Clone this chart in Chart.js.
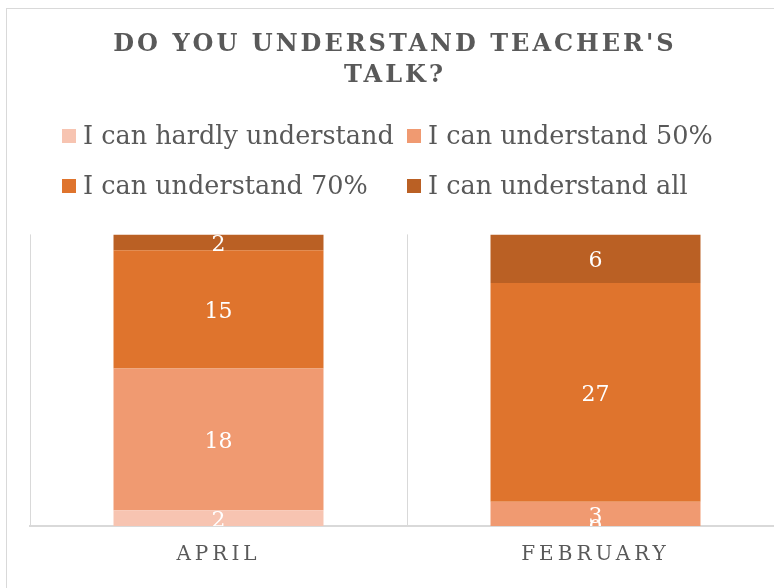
<!DOCTYPE html>
<html>
<head>
<meta charset="utf-8">
<script src="https://cdn.jsdelivr.net/npm/chart.js@4"></script>
<style>
  html, body { margin: 0; padding: 0; background: #fff; overflow: hidden; width: 774px; height: 588px; }
  #frame { position: absolute; left: 6px; top: 8px; width: 768px; height: 580px; border-left: 1px solid #d9d9d9; border-top: 1px solid #d9d9d9; box-sizing: border-box; }
  #wrap { position: absolute; left: 0; top: 0; width: 790px; height: 588px; }
</style>
</head>
<body>
<div id="frame"></div>
<div id="wrap"><canvas id="talkChart"></canvas></div>
<script>
const months = ['APRIL', 'FEBRUARY'];
const hardly = [2, 0];
const half = [18, 3];
const seventy = [15, 27];
const all = [2, 6];
const seriesNames = ['I can hardly understand', 'I can understand 50%', 'I can understand 70%', 'I can understand all'];
const colors = ['#F7C4B1', '#F09A71', '#DF742D', '#BA6024'];

const raw = [hardly, half, seventy, all];
const totals = months.map((m, i) => raw.reduce((s, arr) => s + arr[i], 0));

const serif = '"DejaVu Serif", "Liberation Serif", serif';
const grey = '#595959';

// letter spacing for the title and month labels
const spacing = {
  id: 'spacing',
  beforeDraw(chart) {
    const x = chart.scales.x;
    if (!x._spaced) {
      const d = x.drawLabels;
      x.drawLabels = function (a) { this.ctx.save(); this.ctx.letterSpacing = '4px'; d.call(this, a); this.ctx.restore(); };
      x._spaced = true;
    }
    const t = chart.titleBlock;
    if (t && !t._spaced) {
      const d2 = t.draw;
      t.draw = function () { this.ctx.save(); this.ctx.letterSpacing = '3px'; d2.call(this); this.ctx.restore(); };
      t._spaced = true;
    }
  }
};

// two-column legend like the office one
const legendGrid = {
  id: 'legendGrid',
  afterDraw(chart) {
    const ctx = chart.ctx;
    ctx.save();
    ctx.font = '25.5px ' + serif;
    ctx.textBaseline = 'middle';
    chart.data.datasets.forEach((ds, i) => {
      const x = 62 + (i % 2) * 345;
      const y = 136 + Math.floor(i / 2) * 50;
      ctx.fillStyle = ds.backgroundColor;
      ctx.fillRect(x, y - 7, 14, 14);
      ctx.fillStyle = grey;
      ctx.fillText(ds.label, x + 21, y + 1);
    });
    ctx.restore();
  }
};

// raw counts in the middle of each segment
const valueLabels = {
  id: 'valueLabels',
  afterDatasetsDraw(chart) {
    const ctx = chart.ctx;
    const a = chart.chartArea;
    ctx.save();
    ctx.beginPath();
    ctx.rect(a.left, a.top, a.right - a.left, a.bottom - a.top);
    ctx.clip();
    ctx.font = '22px ' + serif;
    ctx.fillStyle = '#fff';
    ctx.textAlign = 'center';
    ctx.textBaseline = 'middle';
    chart.data.datasets.forEach((ds, i) => {
      chart.getDatasetMeta(i).data.forEach((bar, j) => {
        ctx.fillText(String(raw[i][j]), bar.x, (bar.y + bar.base) / 2 + 3);
      });
    });
    ctx.restore();
  }
};

new Chart(document.getElementById('talkChart'), {
  type: 'bar',
  data: {
    labels: months,
    datasets: raw.map((arr, i) => ({
      label: seriesNames[i],
      data: arr.map((v, j) => v / totals[j] * 100),
      backgroundColor: colors[i],
      borderWidth: 0,
      barPercentage: 1,
      categoryPercentage: 0.557
    }))
  },
  options: {
    responsive: true,
    maintainAspectRatio: false,
    animation: false,
    layout: { padding: { left: 6, right: 6, top: 0, bottom: 12 } },
    plugins: {
      legend: { display: false },
      tooltip: { enabled: false },
      title: {
        display: true,
        text: ["DO YOU UNDERSTAND TEACHER'S", 'TALK?'],
        color: grey,
        font: { family: serif, size: 24, weight: 'bold', lineHeight: 1.3 },
        padding: { top: 29, bottom: 143 }
      }
    },
    scales: {
      x: {
        stacked: true,
        grid: { color: '#d9d9d9', lineWidth: 1, drawTicks: false },
        border: { color: '#d9d9d9', width: 2 },
        ticks: { color: grey, font: { family: serif, size: 20 }, padding: 17 },
        afterFit(scale) { scale.height = 50; }
      },
      y: {
        stacked: true,
        min: 0,
        max: 100,
        grid: { display: false },
        border: { display: false },
        ticks: { display: false },
        afterFit(scale) { scale.width = 24; }
      }
    }
  },
  plugins: [spacing, legendGrid, valueLabels]
});
</script>
</body>
</html>
